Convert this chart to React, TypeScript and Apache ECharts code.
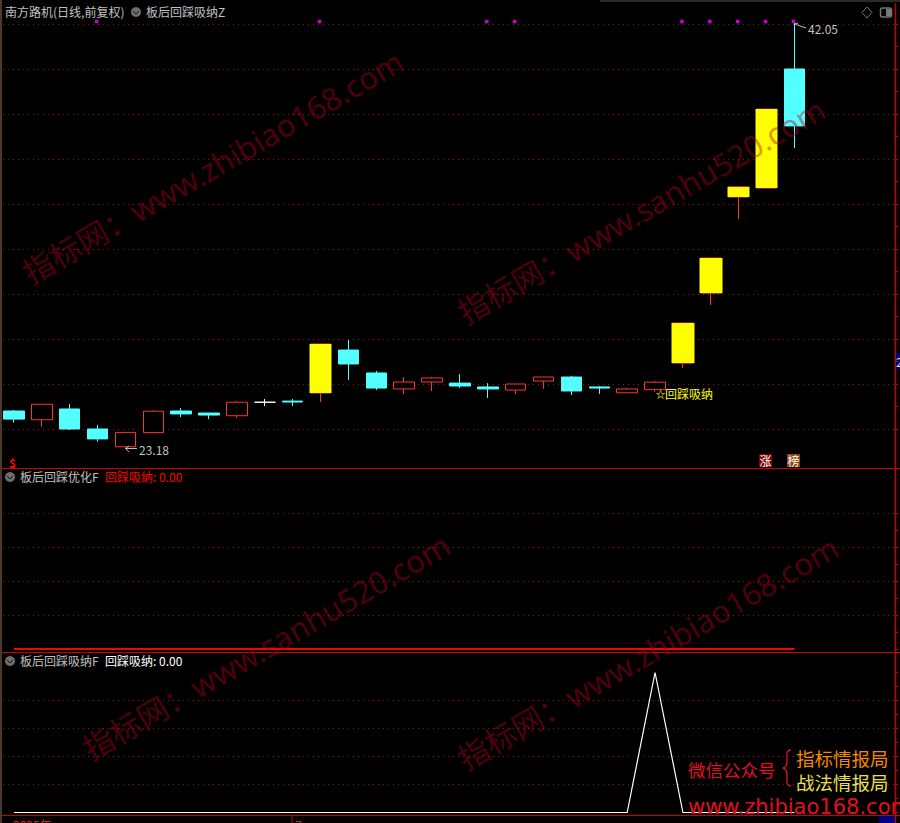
import React, { useEffect, useRef } from "react";
import * as echarts from "echarts";

const categories = ["1","2","3","4","5","6","7","8","9","10","11","12","13","14","15","16","17","18","19","20","21","22","23","24","25","26","27","28","29"];
// open, close, low, high
const ohlc: number[][] = [
  [24.80,24.44,24.28,24.84],[24.41,25.10,24.10,25.10],[24.89,24.00,23.96,25.11],[24.00,23.56,23.44,24.18],
  [23.21,23.85,23.18,23.85],[23.84,24.79,23.84,24.84],[24.80,24.67,24.53,24.93],[24.71,24.62,24.44,24.71],
  [24.59,25.19,24.49,25.24],[25.19,25.19,25.02,25.33],[25.24,25.20,25.02,25.33],[25.60,27.78,25.20,27.78],
  [27.51,26.89,26.18,27.96],[26.49,25.82,25.73,26.58],[25.78,26.09,25.56,26.31],[26.09,26.27,25.69,26.31],
  [26.04,25.91,25.82,26.44],[25.87,25.78,25.38,26.04],[25.73,26.00,25.56,26.00],[26.13,26.31,25.78,26.31],
  [26.31,25.69,25.51,26.36],[25.87,25.82,25.56,25.91],[25.61,25.78,25.61,25.82],[25.75,26.08,25.66,26.13],
  [26.93,28.71,26.71,28.71],[30.04,31.60,29.51,31.60],[34.31,34.76,33.33,34.76],[34.71,38.22,34.71,38.22],
  [40.00,37.47,36.49,42.05],
];
const yellowIndexes = [11, 24, 25, 26, 27];
const markerIndexes = [3, 11, 17, 18, 24, 25, 26, 27, 28];
const markerLevel = 42.11;
const optimizedValues = categories.map(() => 0);
const signalValues = [0,0,0,0,0,0,0,0,0,0,0,0,0,0,0,0,0,0,0,0,0,0,0,1,0,0,0,0,0];
const mainTitle = "南方路机(日线,前复权)";
const RED = "#c80000";
const GRIDRED = "#a01010";
const CJK = '"Noto Sans CJK SC", sans-serif';
const WM = "rgba(190,0,30,0.42)";

echarts.graphic.registerShape("brace", echarts.graphic.extendPath("M8 0C3 0 4 4 4 9C4 14 4 17 0 18C4 19 4 22 4 27C4 32 3 36 8 36", {}) as any);

function txt(x: number, y: number, text: string, fill: string, fontSize = 12, extra: any = {}) {
  return { type: "text", x, y, silent: true, z: 20, style: { text, fill, fontSize, fontFamily: CJK, verticalAlign: "middle", ...extra } };
}
function wm(x: number, y: number, text: string) {
  return { type: "text", x, y, rotation: (30 * Math.PI) / 180, z: 50, silent: true,
    style: { text, fill: WM, fontSize: 31, fontFamily: '"Noto Sans", "Noto Sans CJK SC", sans-serif', verticalAlign: "middle" } };
}
function hline(x1: number, x2: number, y: number, color: string, w = 1) {
  return { type: "line", silent: true, shape: { x1, y1: y, x2, y2: y }, style: { stroke: color, lineWidth: w } };
}
function chevron(cx: number, cy: number) {
  return [
    { type: "circle", silent: true, shape: { cx, cy, r: 5 }, style: { fill: "#6e6e6e" } },
    { type: "polyline", silent: true, shape: { points: [[cx - 3, cy - 1], [cx, cy + 2], [cx + 3, cy - 1]] }, style: { stroke: "#111", lineWidth: 1, fill: "none" } },
  ];
}
function gridAxis(i: number, min: number, max: number, interval: number, hideEnds: boolean) {
  return {
    type: "value", gridIndex: i, position: "right", min, max, interval,
    axisLabel: { show: false },
    axisLine: { show: false, onZero: false },
    axisTick: { show: true, length: 3, lineStyle: { color: RED } },
    minorTick: { show: true, splitNumber: 2, length: 3, lineStyle: { color: RED } },
    splitLine: { show: true, showMinLine: !hideEnds, showMaxLine: !hideEnds, lineStyle: { color: GRIDRED, width: 1, type: [1, 4] } },
  };
}
function bandX(i: number) {
  return { type: "category", gridIndex: i, data: categories, boundaryGap: true, show: false };
}

export default function App() {
  const ref = useRef<HTMLDivElement>(null);
  useEffect(() => {
    const chart = echarts.init(ref.current!, null, { renderer: "svg" });
    const yellow = ohlc.map((d, i) => (yellowIndexes.includes(i) ? [d[0], d[1], d[0], d[1]] : ["-", "-", "-", "-"]));
    chart.setOption({
      animation: false,
      backgroundColor: "#000",
      grid: [
        { left: 3, width: 892, top: 24, height: 405 },
        { left: -0.65, width: 809, top: 24, height: 405 },
        { left: 3, width: 892, top: 513, height: 136 },
        { left: -0.65, width: 809, top: 513, height: 136 },
        { left: 3, width: 892, top: 672.5, height: 140 },
        { left: -0.65, width: 809, top: 672.5, height: 140 },
      ],
      xAxis: [
        { type: "value", gridIndex: 0, show: false, min: 0, max: 1 },
        bandX(1),
        { type: "value", gridIndex: 2, show: false, min: 0, max: 1 },
        bandX(3),
        { type: "value", gridIndex: 4, show: false, min: 0, max: 1 },
        bandX(5),
      ],
      yAxis: [
        gridAxis(0, 24, 42, 2, false),
        { type: "value", gridIndex: 1, show: false, min: 24, max: 42 },
        { ...gridAxis(2, 0, 4, 1, false), splitLine: { show: true, showMinLine: false, showMaxLine: true, lineStyle: { color: GRIDRED, width: 1, type: [1, 4] } } },
        { type: "value", gridIndex: 3, show: false, min: 0, max: 4 },
        gridAxis(4, 0, 1, 0.2, true),
        { type: "value", gridIndex: 5, show: false, min: 0, max: 1 },
      ],
      series: [
        {
          type: "candlestick", xAxisIndex: 1, yAxisIndex: 1, data: ohlc, barWidth: 21, clip: false,
          itemStyle: { color: "#000", color0: "#54ffff", borderColor: "#ff3232", borderColor0: "#54ffff", borderColorDoji: "#ffffff", borderWidth: 1 },
        },
        {
          type: "candlestick", xAxisIndex: 1, yAxisIndex: 1, data: yellow, barWidth: 23, clip: false,
          itemStyle: { color: "#ffff00", color0: "#ffff00", borderColor: "#ffff00", borderColor0: "#ffff00", borderWidth: 0 },
        },
        {
          type: "scatter", xAxisIndex: 1, yAxisIndex: 1, symbol: "rect", symbolSize: 3.5, symbolOffset: [-1, 0], clip: false, z: 30,
          itemStyle: { color: "#ff00ff" },
          data: markerIndexes.map((i) => [i, markerLevel]),
        },
        {
          type: "line", xAxisIndex: 3, yAxisIndex: 3, data: optimizedValues, symbol: "none",
          lineStyle: { color: "#ff0000", width: 2 },
        },
        {
          type: "line", xAxisIndex: 5, yAxisIndex: 5, data: signalValues, symbol: "none",
          lineStyle: { color: "#ffffff", width: 1.2 },
        },
      ],
      graphic: [
        { type: "rect", silent: true, shape: { x: 0, y: 0, width: 2, height: 823 }, style: { fill: "#4a3a2e" } },
        hline(600, 900, 1, "#555"),
        hline(2, 900, 468.5, RED, 1),
        hline(2, 900, 652.5, RED, 1),
        hline(2, 900, 815.5, RED, 1),
        { type: "line", silent: true, shape: { x1: 895.5, y1: 3, x2: 895.5, y2: 823 }, style: { stroke: RED, lineWidth: 1.5 } },
        { type: "polygon", silent: true, shape: { points: [[867, 7], [872, 12.5], [867, 18], [862, 12.5]] }, style: { fill: "none", stroke: "#777", lineWidth: 1 } },
        { type: "rect", silent: true, shape: { x: 880.5, y: 8, width: 11, height: 9, r: 2 }, style: { fill: "#000", stroke: "#777", lineWidth: 1.5 } },
        { type: "rect", silent: true, shape: { x: 886, y: 9, width: 5, height: 7 }, style: { fill: "#777" } },
        { type: "rect", silent: true, shape: { x: 896, y: 353, width: 4, height: 16 }, style: { fill: "#000080" } },
        txt(896, 361, "2", "#ddd", 12),
        txt(5, 11.5, mainTitle, "#c0c0c0"),
        ...chevron(136, 12),
        txt(146, 11.5, "板后回踩吸纳Z", "#c0c0c0"),
        ...chevron(10, 477),
        txt(20, 476.5, "板后回踩优化F", "#c0c0c0"),
        txt(105, 476.5, "回踩吸纳: 0.00", "#ff0000"),
        ...chevron(10, 661),
        txt(20, 660.5, "板后回踩吸纳F", "#c0c0c0"),
        txt(105, 660.5, "回踩吸纳: 0.00", "#ffffff"),
        { type: "polyline", z: 20, silent: true, shape: { points: [[137, 448.5], [125.5, 448.5]] }, style: { stroke: "#bbb", lineWidth: 1, fill: "none" } },
        { type: "polyline", z: 20, silent: true, shape: { points: [[129, 446], [125.5, 448.5], [129, 452]] }, style: { stroke: "#bbb", lineWidth: 1, fill: "none" } },
        txt(139, 449.5, "23.18", "#c0c0c0"),
        { type: "polyline", z: 20, silent: true, shape: { points: [[798, 23], [794.5, 24], [806, 28]] }, style: { stroke: "#bbb", lineWidth: 1, fill: "none" } },
        txt(808, 28.5, "42.05", "#c0c0c0"),
        txt(655.5, 393, "☆", "#e0e000", 10, { fontWeight: "bold" }),
        txt(665, 393, "回踩吸纳", "#ffff00"),
        txt(9, 462, "$", "#ff0000", 12, { fontWeight: "bold" }),
        { type: "rect", silent: true, shape: { x: 759, y: 454, width: 13, height: 13 }, style: { fill: "#800000" } },
        txt(759.5, 460, "涨", "#ffffff"),
        { type: "rect", silent: true, shape: { x: 787, y: 454, width: 13, height: 13 }, style: { fill: "#8b4513" } },
        txt(787.5, 460, "榜", "#ffffff"),
        txt(13, 824.5, "2025年", "#e02020"),
        { type: "line", silent: true, shape: { x1: 292, y1: 816, x2: 292, y2: 823 }, style: { stroke: RED, lineWidth: 1 } },
        txt(295, 824.5, "7", "#e02020"),
        { type: "rect", silent: true, shape: { x: 879, y: 816, width: 16, height: 7 }, style: { fill: "#000080" } },
        wm(25, 275, "指标网：www.zhibiao168.com"),
        wm(460, 315, "指标网：www.sanhu520.com"),
        wm(85, 751, "指标网：www.sanhu520.com"),
        wm(460, 761, "指标网：www.zhibiao168.com"),
        txt(688, 769, "微信公众号", "#e01020", 17.5),
        { type: "brace", x: 783, y: 750, silent: true, style: { fill: "none", stroke: "#e01020", lineWidth: 1.3 } },
        txt(796, 758, "指标情报局", "#f08a00", 18.5),
        txt(796, 782, "战法情报局", "#e8e050", 18.5),
        txt(688, 807, "www.zhibiao168.com", "#e01020", 21, { fontFamily: '"DejaVu Sans", sans-serif' }),
      ],
    });
    return () => chart.dispose();
  }, []);
  return <div ref={ref} style={{ position: "fixed", left: 0, top: 0, width: 900, height: 823 }} />;
}
